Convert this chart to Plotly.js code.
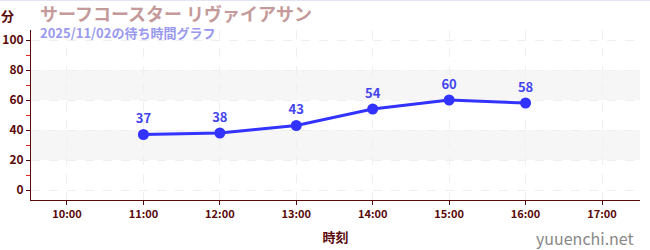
<!DOCTYPE html>
<html><head><meta charset="utf-8">
<script src="https://cdn.plot.ly/plotly-3.0.1.min.js"></script>
<style>html,body{margin:0;padding:0;background:#fff}#wrap{width:650px;height:250px;position:relative}#top{position:absolute;left:0;top:0;width:650px;height:1px;background:#e4e4f8;z-index:5}</style>
</head><body><div id="wrap"><div id="top"></div><div id="chart" style="width:650px;height:250px"></div></div>
<script>
const times = ['2025-11-02 11:00','2025-11-02 12:00','2025-11-02 13:00','2025-11-02 14:00','2025-11-02 15:00','2025-11-02 16:00'];
const waits = [37, 38, 43, 54, 60, 58];
const tickVals = ['2025-11-02 10:00','2025-11-02 11:00','2025-11-02 12:00','2025-11-02 13:00','2025-11-02 14:00','2025-11-02 15:00','2025-11-02 16:00','2025-11-02 17:00'];
const tickText = ['10:00','11:00','12:00','13:00','14:00','15:00','16:00','17:00'];
const bands = [[20,40],[60,80]];
const titleText = 'サーフコースター リヴァイアサン';
const subtitleText = '2025/11/02の待ち時間グラフ';

const F = '"Noto Sans CJK JP", "Noto Sans", sans-serif';
const axisCol = '#5a0a0a';
const lineCol = '#3333ff';

const shapes = bands.map(b => ({type:'rect', xref:'paper', yref:'y', x0:0, x1:1, y0:b[0], y1:b[1], fillcolor:'#f6f6f6', line:{width:0}, layer:'below'}));

const trace = {
  x: times, y: waits, type:'scatter', mode:'lines+markers+text',
  text: waits.map(String), textposition:'top center',
  textfont:{family:F, size:13, color:'#4444ee', weight:'bold'},
  line:{color:lineCol, width:3},
  marker:{color:lineCol, size:11},
  hoverinfo:'skip', cliponaxis:false
};

const layout = {
  width:650, height:250,
  margin:{l:31, r:10, t:30, b:50},
  paper_bgcolor:'rgba(0,0,0,0)', plot_bgcolor:'rgba(0,0,0,0)',
  showlegend:false,
  font:{family:F, color:axisCol},
  xaxis:{
    type:'date', range:['2025-11-02 09:31:45','2025-11-02 17:29:50'],
    tickvals:tickVals, ticktext:tickText,
    tickfont:{family:F, size:11, color:axisCol, weight:'bold'},
    showline:true, linecolor:axisCol, linewidth:1,
    ticks:'outside', ticklen:4, tickcolor:axisCol,
    showgrid:true, gridcolor:'#efefef', griddash:'dash', gridwidth:1,
    zeroline:false, fixedrange:true,
    title:{text:'時刻', font:{family:F, size:13, color:axisCol, weight:'bold'}, standoff:12}
  },
  yaxis:{
    range:[-6.67, 106.67], tickvals:[0,20,40,60,80,100],
    tickfont:{family:F, size:12, color:axisCol, weight:'bold'},
    showline:true, linecolor:axisCol, linewidth:1,
    ticks:'outside', ticklen:4, tickcolor:axisCol,
    minor:{tickvals:[10,30,50,70,90], ticks:'outside', ticklen:4, tickcolor:'#dd2222', showgrid:false},
    showgrid:true, gridcolor:'#efefef', griddash:'dash', gridwidth:1,
    zeroline:false, fixedrange:true
  },
  shapes: shapes,
  annotations:[
    {xref:'paper', yref:'paper', x:-0.052, y:1.0, yshift:15, xanchor:'left', yanchor:'middle', text:'分', showarrow:false, font:{family:F, size:13, color:axisCol, weight:'bold'}},
    {xref:'paper', yref:'paper', x:0.011, y:1.0, yshift:17, xanchor:'left', yanchor:'middle', text:titleText, showarrow:false, font:{family:F, size:18, color:'#c49a9a', weight:'bold'}},
    {xref:'paper', yref:'paper', x:0.012, y:1.0, yshift:-2, xanchor:'left', yanchor:'middle', text:subtitleText, showarrow:false, font:{family:F, size:13, color:'#9999ee', weight:'bold'}},
    {xref:'paper', yref:'paper', x:1.0, y:0, yshift:-38, xshift:-4, xanchor:'right', yanchor:'middle', text:'yuuenchi.net', showarrow:false, font:{family:F, size:16, color:'#888888'}}
  ]
};

Plotly.newPlot('chart', [trace], layout, {displayModeBar:false, staticPlot:true});
</script></body></html>
